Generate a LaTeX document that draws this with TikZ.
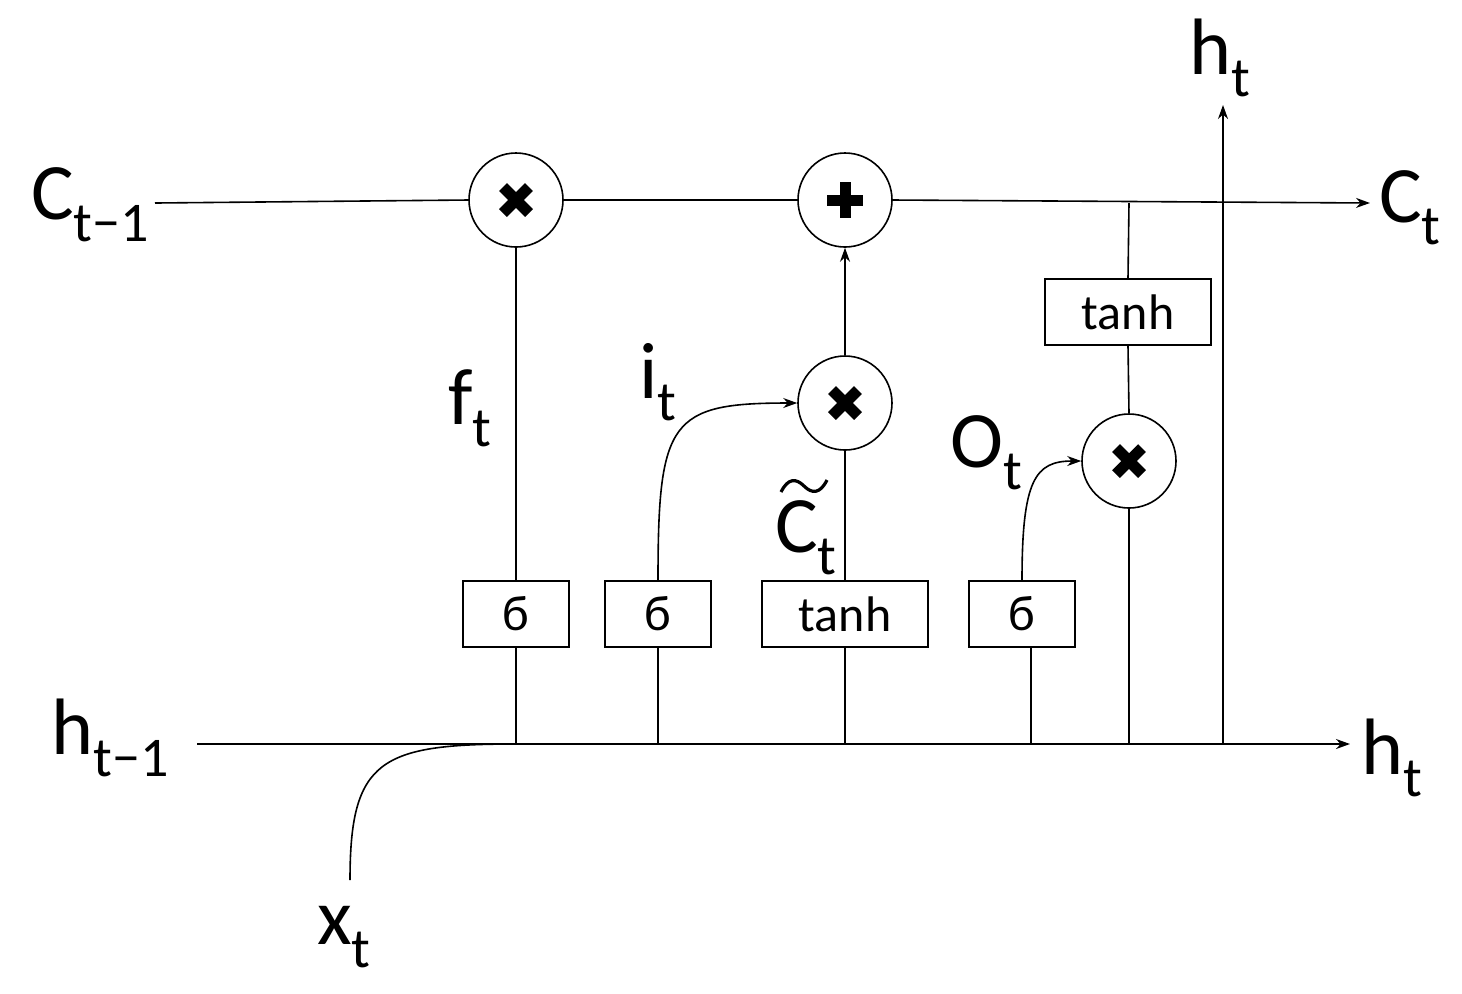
\documentclass[tikz,border=0pt]{standalone}
\usepackage{fontspec}
\setmainfont{Carlito}
\usetikzlibrary{arrows.meta}
\newcommand{\lb}[2]{#1\raisebox{-0.28em}{\fontsize{28}{30}\selectfont #2}}
\begin{document}
\begin{tikzpicture}[x=0.5pt,y=-0.5pt,line width=0.8pt,
  circ/.style={circle,draw,minimum size=47pt,inner sep=0pt},
  box/.style={draw,minimum height=33pt,minimum width=53pt,inner sep=0pt,font=\fontsize{25}{28}\selectfont},
  wbox/.style={box,minimum width=83pt},
  lab/.style={font=\fontsize{40}{44}\selectfont,inner sep=0pt},
  arr/.style={-{Stealth[length=7pt,width=5pt]}},
  sym/.style={line width=5.5pt}]
\useasboundingbox (0,0) rectangle (1462,993);
% nodes
\node[circ] (m1) at (516,200) {};
\node[circ] (p) at (845,200) {};
\node[circ] (m2) at (845,403) {};
\node[circ] (m3) at (1129,461) {};
\node[box] (s1) at (516,614) {б};
\node[box] (s2) at (658,614) {б};
\node[wbox] (t1) at (845,614) {tanh};
\node[box] (s3) at (1022,614) {б};
\node[wbox] (t2) at (1128,312) {tanh};
% symbols
\foreach \n in {m1,m2,m3}{\draw[sym] ([shift={(-13,-13)}]\n.center) -- ([shift={(13,13)}]\n.center);
 \draw[sym] ([shift={(-13,13)}]\n.center) -- ([shift={(13,-13)}]\n.center);}
\draw[sym] ([shift={(-18,0)}]p.center) -- ([shift={(18,0)}]p.center);
\draw[sym] ([shift={(0,-18)}]p.center) -- ([shift={(0,18)}]p.center);
% labels
\node[lab] (cin) at (90,205) {\lb{C}{t−1}};
\node[lab] (cout) at (1410,208) {\lb{C}{t}};
\node[lab] (hin) at (110,738) {\lb{h}{t−1}};
\node[lab] (hout) at (1392,758) {\lb{h}{t}};
\node[lab] (htop) at (1220,58) {\lb{h}{t}};
\node[lab] (x) at (344,937) {\lb{x}{t}};
\node[lab] (f) at (470,408) {\lb{f}{t}};
\node[lab] (i) at (658,382) {\lb{i}{t}};
\node[lab] (ct) at (806,538) {\lb{C}{t}};
\draw[line width=1.6pt] (781,492) .. controls (788,478) and (796,478) .. (804,486)
  .. controls (812,494) and (820,494) .. (827,480);
\node[lab] (o) at (986,453) {\lb{O}{t}};
% coordinates
\coordinate (a1) at (155,203); \coordinate (a2) at (1370,203);
\coordinate (b1) at (197,744); \coordinate (b2) at (1350,744);
\coordinate (v) at (1223,744); \coordinate (vt) at (1223,105);
\coordinate (xs) at (350,880);
% top line
\draw (a1) -- (m1.west); \draw (m1.east) -- (p.west); \draw[arr] (p.east) -- (a2);
% bottom line
\draw[arr] (b1) -- (b2);
\draw[arr] (v) -- (vt);
\draw (xs) .. controls (350,760) and (380,744) .. (516,744);
% verticals
\draw (516,744) -- (s1.south); \draw (s1.north) -- (m1.south);
\draw (658,744) -- (s2.south);
\draw[arr] (s2.north) .. controls (658,420) and (670,403) .. (m2.west);
\draw (845,744) -- (t1.south); \draw (t1.north) -- (m2.south);
\draw[arr] (m2.north) -- (p.south);
\draw (1031,744) -- (1031,648);
\draw[arr] (s3.north) .. controls (1022,480) and (1035,461) .. (m3.west);
\draw (1129,744) -- (m3.south); \draw (m3.north) -- (t2.south);
\draw (t2.north) -- (1129,203);
\end{tikzpicture}
\end{document}
